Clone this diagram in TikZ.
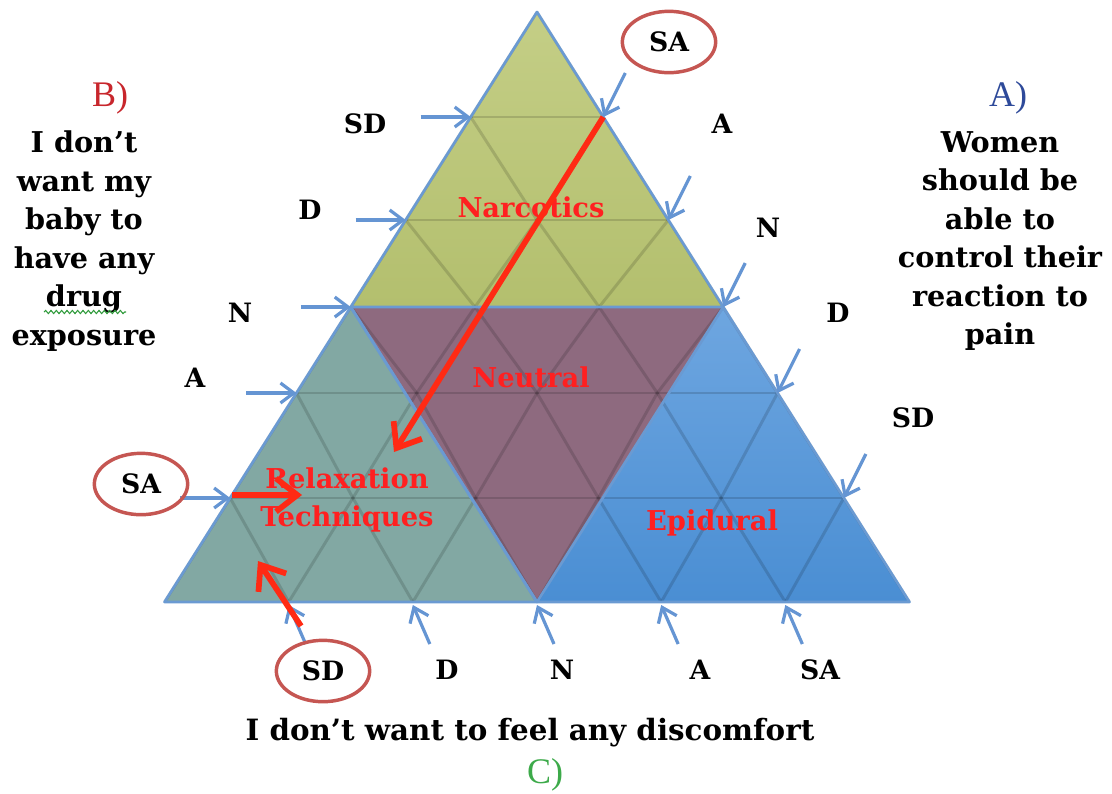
\documentclass[tikz,border=0pt]{standalone}
\usepackage{fontspec}
\setmainfont{DejaVu Serif}
\newfontfamily\libser{Liberation Serif}
\usetikzlibrary{arrows.meta,shapes.geometric,decorations.pathmorphing,calc}
\definecolor{cNarcT}{HTML}{C4CE86}
\definecolor{cNarcB}{HTML}{B3BF6E}
\definecolor{cRelax}{HTML}{82A8A3}
\definecolor{cNeut}{HTML}{8E6A7F}
\definecolor{cEpiT}{HTML}{6EA6E0}
\definecolor{cEpiB}{HTML}{4A8ED3}
\definecolor{cEdge}{HTML}{6A9AD2}
\definecolor{cArrowB}{HTML}{6595D3}
\definecolor{cRedA}{HTML}{FF2A14}
\definecolor{cEll}{HTML}{C55652}
\definecolor{cRegLab}{HTML}{FF2020}
\definecolor{cBlab}{HTML}{C8262C}
\definecolor{cAlab}{HTML}{2E4A9A}
\definecolor{cClab}{HTML}{3DAA4A}
\definecolor{cSquig}{HTML}{2E9A3A}
\tikzset{
  gridline/.style={draw=black, draw opacity=0.14, line width=2.2pt},
  regedge/.style={draw=cEdge, line width=2pt, line join=round},
  bluearr/.style={draw=cArrowB, line width=2.4pt, -{Straight Barb[length=10pt,width=15pt]}},
  redarr/.style={draw=cRedA, line width=4.3pt, -{Straight Barb[length=16pt,width=25pt]}},
  scale lab/.style={font=\fontsize{20pt}{24pt}\selectfont\bfseries, inner sep=0pt},
  ringlab/.style={scale lab, ellipse, draw=cEll, line width=2.6pt, minimum width=70pt, minimum height=46pt},
  blocktxt/.style={font=\fontsize{21.5pt}{28.9pt}\selectfont\bfseries, align=center, inner sep=0pt},
  reglab/.style={font=\fontsize{20.5pt}{28pt}\selectfont\bfseries, text=cRegLab, align=center, inner sep=0pt},
  letterlab/.style={font=\libser\fontsize{27pt}{30pt}\selectfont, inner sep=0pt}
}
\begin{document}
\begin{tikzpicture}[x=0.75pt,y=-0.75pt]
\useasboundingbox (0,0) rectangle (1112,793);
\fill[white] (0,0) rectangle (1112,793);
% grid coordinates
\def\Ys{{12,117,220,307,393,498,602}}
\coordinate (p-0-0) at (537,12);
\foreach \k in {1,...,6}{
  \pgfmathsetmacro\yy{\Ys[\k]}
  \foreach \i in {0,...,\k}{
    \pgfmathsetmacro\xx{537+(\yy-12)/590*372.5*(2*\i/\k-1)}
    \coordinate (p-\k-\i) at (\xx,\yy);
  }
}
% regions
\shade[top color=cNarcT, bottom color=cNarcB] (p-0-0) -- (p-3-0) -- (p-3-3) -- cycle;
\fill[cRelax] (p-3-0) -- (p-6-0) -- (p-6-3) -- cycle;
\fill[cNeut] (p-3-0) -- (p-3-3) -- (p-6-3) -- cycle;
\shade[top color=cEpiT, bottom color=cEpiB] (p-3-3) -- (p-6-3) -- (p-6-6) -- cycle;
% grid
\foreach \k in {1,...,5}{ \draw[gridline] (p-\k-0) -- (p-\k-\k); }
\foreach \k in {0,...,5}{
  \pgfmathtruncatemacro\kn{\k+1}
  \foreach \i in {0,...,\k}{
    \pgfmathtruncatemacro\inx{\i+1}
    \draw[gridline] (p-\k-\i) -- (p-\kn-\i);
    \draw[gridline] (p-\k-\i) -- (p-\kn-\inx);
  }
}
% region outlines
\draw[regedge] (p-0-0) -- (p-3-0) -- (p-3-3) -- cycle;
\draw[regedge] (p-3-0) -- (p-6-0) -- (p-6-3) -- cycle;
\draw[regedge] (p-3-3) -- (p-6-3) -- (p-6-6) -- cycle;
\draw[regedge] (p-3-0) -- (p-6-3);
% region labels
\node[reglab] (narc) at (531,207) {Narcotics};
\node[reglab] (neut) at (531,377) {Neutral};
\node[reglab] (relax) at (347,500) {Relaxation\\Techniques};
\node[reglab] (epi) at (712,523) {Epidural};
% blue arrows
\foreach \k in {1,...,5}{
  \coordinate (ls-\k) at ($(p-\k-0)+(-50,0)$);
  \draw[bluearr] (ls-\k) -- (p-\k-0);
  \coordinate (rs-\k) at ($(p-\k-\k)+(22,-44)$);
  \draw[bluearr] (rs-\k) -- (p-\k-\k);
  \coordinate (bs-\k) at ($(p-6-\k)+(17,42)$);
  \coordinate (be-\k) at ($(p-6-\k)+(0,3)$);
  \draw[bluearr] (bs-\k) -- (be-\k);
}
% left labels
\node[scale lab] (lSD) at (365,124) {SD};
\node[scale lab] (lD) at (310,210) {D};
\node[scale lab] (lN) at (240,313) {N};
\node[scale lab] (lA) at (195,378) {A};
\node[ringlab] (lSA) at (141,484) {SA};
% right labels
\node[ringlab] (rSA) at (669,42) {SA};
\node[scale lab] (rA) at (722,124) {A};
\node[scale lab] (rN) at (768,228) {N};
\node[scale lab] (rD) at (838,313) {D};
\node[scale lab] (rSD) at (913,418) {SD};
% bottom labels
\node[ringlab] (bSD) at (323,671) {SD};
\node[scale lab] (bD) at (447,670) {D};
\node[scale lab] (bN) at (562,670) {N};
\node[scale lab] (bA) at (700,670) {A};
\node[scale lab] (bSA) at (820,670) {SA};
% red arrows
\coordinate (r1e) at (394,452);
\draw[redarr] (p-1-1) -- (r1e);
\coordinate (r2s) at (232,495);
\coordinate (r2e) at (302,495);
\draw[redarr] (r2s) -- (r2e);
\coordinate (r3s) at (301,626);
\coordinate (r3e) at (258,561);
\draw[redarr] (r3s) -- (r3e);
% side texts
\node[blocktxt] (btext) at (84,241) {I don’t\\want my\\baby to\\have any\\drug\\exposure};
\draw[cSquig, line width=0.8pt, decorate, decoration={snake, amplitude=1.2pt, segment length=4pt}] (44,312) -- (126,312);
\node[blocktxt] (atext) at (1000,241) {Women\\should be\\able to\\control their\\reaction to\\pain};
\node[font=\fontsize{22pt}{26pt}\selectfont\bfseries, inner sep=0pt] (ctext) at (530,733) {I don’t want to feel any discomfort};
\node[letterlab, text=cBlab] (blab) at (110,98) {B)};
\node[letterlab, text=cAlab] (alab) at (1008,98) {A)};
\node[letterlab, text=cClab] (clab) at (545,775) {C)};
\end{tikzpicture}
\end{document}
